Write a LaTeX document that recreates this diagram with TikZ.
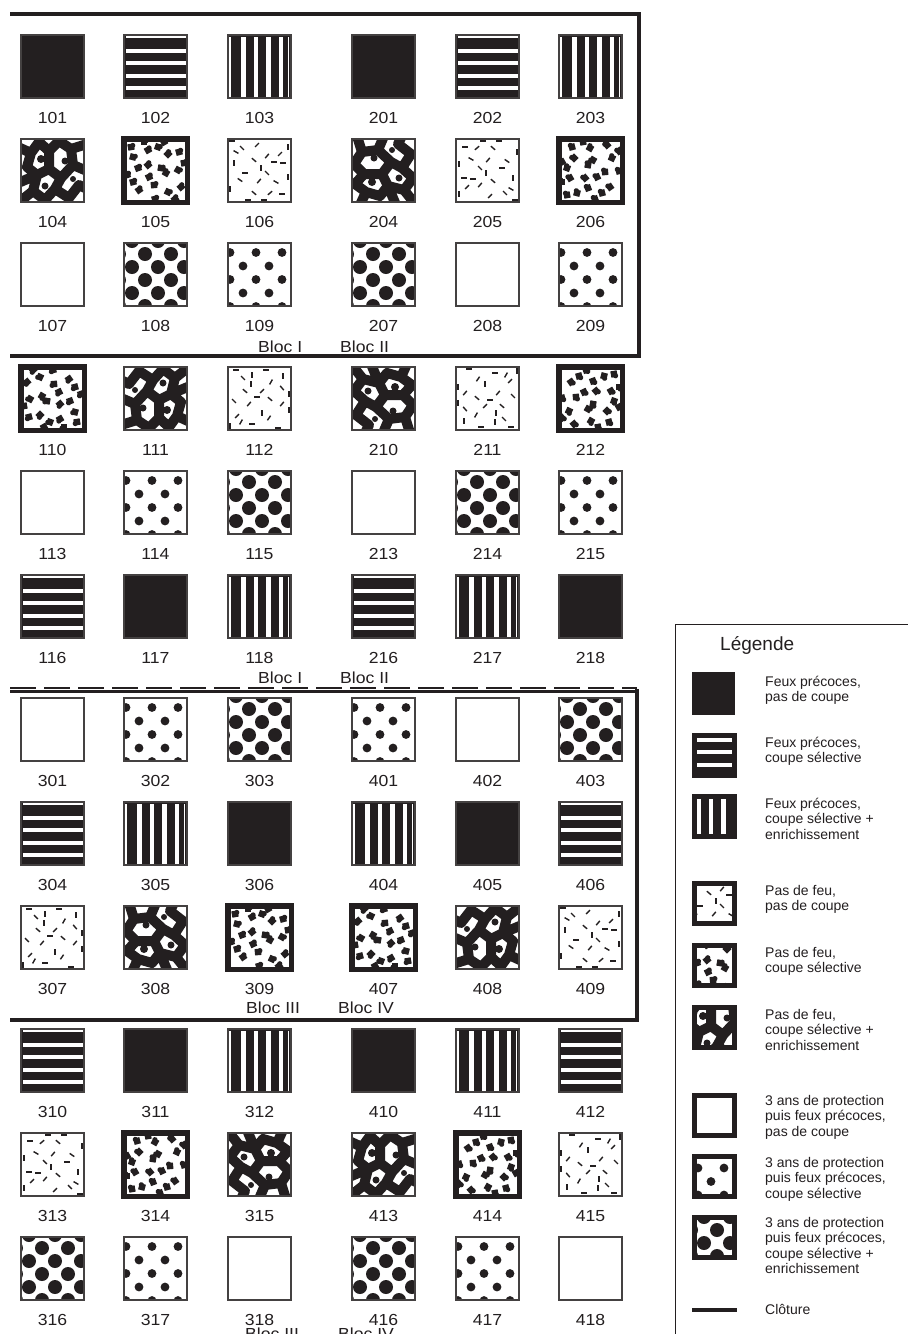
\documentclass[tikz,border=0pt]{standalone}
\usepackage{fontspec}
\setmainfont{Liberation Sans}
\newfontfamily\labfont{Liberation Sans}[FakeStretch=1.1]
\definecolor{ink}{RGB}{35,31,32}

\tikzset{
  cellbox/.style={draw=ink!85, line width=1.1pt, minimum size=63pt, inner sep=0pt, outer sep=0pt},
  thickbox/.style={draw=ink, line width=5.5pt, minimum size=63.5pt, inner sep=0pt, outer sep=0pt},
  legbox/.style={draw=ink, line width=5pt, minimum size=40pt, inner sep=0pt, outer sep=0pt},
  numlab/.style={font=\labfont\fontsize{16}{18}\selectfont, text=ink, anchor=base, inner sep=0pt},
  bloclab/.style={font=\labfont\fontsize{16}{18}\selectfont, text=ink, anchor=base west, inner sep=0pt},
  fence/.style={draw=ink, line width=4.5pt},
  legtext/.style={font=\fontsize{14}{15.5}\selectfont, text=ink, align=left, anchor=base west, inner sep=0pt},
  legtitle/.style={font=\fontsize{19}{22}\selectfont, text=ink, anchor=base west, inner sep=0pt},
  dashmark/.style={draw=ink, line width=1.4pt},
  worm/.style={draw=ink, line width=10pt, line join=round, line cap=round},
}

% ---------- patterns, drawn in a 63 x 63 box (y downwards) ----------
\newcommand\patA{\fill[ink] (-1,-1) rectangle (64,64);}
\newcommand\patB{\fill[ink] (-1,-1) rectangle (64,64);
  \fill[white] (1.5,1.2) rectangle (61.5,2.8);
  \foreach \yy in {13.5,26,38.5,51}{\fill[white] (1.5,\yy) rectangle (61.5,\yy+4);}}
\newcommand\patC{\fill[ink] (-1,-1) rectangle (64,64);
  \fill[white] (1.2,1.5) rectangle (2.8,61.5);
  \foreach \xx in {13,25.5,38,50.5}{\fill[white] (\xx,1.5) rectangle (\xx+4.5,61.5);}
  \fill[white] (59.8,1.5) rectangle (61.3,61.5);}
\newcommand\patD{\foreach \xx/\yy/\aa in {14/9/45, 29/6/-45, 6/24/90, 26/21/40, 39/17/-50,
    46/23/0, 55/24/0, 52/15/-45, 17/34/0, 31/42/-50, 12/41/35, 39/34/45, 26/54/40,
    42/54/-40, 54/55/0, 2/50/90, 4/2/0, 60/8/90, 60/38/90, 48/43/30, 20/61/0,
    36/61/0, 8/13/30, 33/29/90}{\draw[dashmark] (\xx,\yy) ++(\aa:-2.8) -- ++(\aa:5.6);}}
\newcommand\patE{\foreach \xx/\yy/\aa in {7/8/10, 24/11/30, 34/8/-20, 44/15/45, 55/13/15,
    9/18/-15, 14/29/20, 24/26/40, 37/29/-10, 25/38/25, 42/34/60, 54/31/-30, 15/51/35,
    30/46/5, 44/53/-25, 57/48/40, 9/43/15, 20/3/0, 40/3/30, 3/36/20, 60/24/10, 31/60/15, 51/60/40}
  {\begin{scope}[shift={(\xx,\yy)},rotate=\aa]
     \fill[ink] (-3.2,-3.2) rectangle (3.2,3.2);
     \fill[ink] (2,-1.2) circle (2.6);
   \end{scope}}}
\newcommand\patF{\draw[worm]
   (-3,8) -- (10,14) -- (18,3) -- (28,12) -- (38,2) -- (50,10) -- (66,5)
   (10,14) -- (6,28) -- (16,36) -- (28,30) -- (28,12)
   (28,30) -- (40,39) -- (52,26) -- (50,10)
   (52,26) -- (66,32)
   (-3,44) -- (16,36)
   (16,36) -- (12,52) -- (24,61) -- (34,50) -- (40,39)
   (34,50) -- (48,59) -- (58,46) -- (66,50)
   (-3,64) -- (12,52);
  \fill[ink] (20,20) circle (4) (44,22) circle (3.5) (24,47) circle (3.5) (52,40) circle (3);}
\newcommand\patG{}
\newcommand\patH{\foreach \yy/\xo in {-4/15,9.5/2,23/15,36.5/2,50/15,63.5/2}
  {\foreach \k in {0,1,2}{\fill[ink] (\xo+26*\k,\yy) circle (4.4);}}}
\newcommand\patI{\foreach \yy/\xo in {-2/8,11/-5,24/8,37/-5,50/8,63/-5}
  {\foreach \k in {0,1,2,3}{\fill[ink] (\xo+26*\k,\yy) circle (7);}}}

% ---------- frames ----------
\newcommand\frameNorm[3]{\node[cellbox] (c#1) at ({#2+31.5},{#3+31.5}) {};}
\newcommand\frameThick[3]{\node[thickbox] (c#1) at ({#2+31.5},{#3+31.5}) {};}
\let\frameA\frameNorm \let\frameB\frameNorm \let\frameC\frameNorm
\let\frameD\frameNorm \let\frameE\frameThick \let\frameF\frameNorm
\let\frameG\frameNorm \let\frameH\frameNorm \let\frameI\frameNorm

% #1 id, #2 left, #3 top, #4 type, #5 rotation
\newcommand\cell[5]{%
  \begin{scope}[shift={(#2,#3)}]
    \begin{scope}
      \clip (0,0) rectangle (63,63);
      \begin{scope}[rotate around={#5:(31.5,31.5)}]
        \csname pat#4\endcsname
      \end{scope}
    \end{scope}
  \end{scope}
  \csname frame#4\endcsname{#1}{#2}{#3}
  \node[numlab] (l#1) at ({#2+31.5},{#3+88}) {#1};
}

% legend square: #1 name, #2 left, #3 top, #4 type
\newcommand\legcell[4]{%
  \begin{scope}[shift={({#2+5},{#3+5})}]
    \clip (0,0) rectangle (35,35);
    \begin{scope}[shift={(-14,-14)}]\csname pat#4\endcsname\end{scope}
  \end{scope}
  \node[legbox] (#1) at ({#2+22.5},{#3+22.5}) {};
}

\begin{document}
\begin{tikzpicture}[x=1pt, y=-1pt]
\useasboundingbox (0,0) rectangle (908,1334);
\fill[white] (0,0) rectangle (908,1334);

% ---------- plots ----------
\foreach \id/\x/\y/\t/\r in {
  101/21/35/A/0, 102/124/35/B/0, 103/228/35/C/0, 201/352/35/A/0, 202/456/35/B/0, 203/559/35/C/0,
  104/21/139/F/0, 105/124/139/E/0, 106/228/139/D/0, 204/352/139/F/90, 205/456/139/D/180, 206/559/139/E/90,
  107/21/243/G/0, 108/124/243/I/0, 109/228/243/H/0, 207/352/243/I/0, 208/456/243/G/0, 209/559/243/H/0,
  110/21/367/E/180, 111/124/367/F/180, 112/228/367/D/90, 210/352/367/F/270, 211/456/367/D/270, 212/559/367/E/270,
  113/21/471/G/0, 114/124/471/H/0, 115/228/471/I/0, 213/352/471/G/0, 214/456/471/I/0, 215/559/471/H/0,
  116/21/575/B/0, 117/124/575/A/0, 118/228/575/C/0, 216/352/575/B/0, 217/456/575/C/0, 218/559/575/A/0,
  301/21/698/G/0, 302/124/698/H/0, 303/228/698/I/0, 401/352/698/H/0, 402/456/698/G/0, 403/559/698/I/0,
  304/21/802/B/0, 305/124/802/C/0, 306/228/802/A/0, 404/352/802/C/0, 405/456/802/A/0, 406/559/802/B/0,
  307/21/906/D/90, 308/124/906/F/90, 309/228/906/E/0, 407/352/906/E/180, 408/456/906/F/180, 409/559/906/D/0,
  310/21/1029/B/0, 311/124/1029/A/0, 312/228/1029/C/0, 410/352/1029/A/0, 411/456/1029/C/0, 412/559/1029/B/0,
  313/21/1133/D/180, 314/124/1133/E/90, 315/228/1133/F/270, 413/352/1133/F/0, 414/456/1133/E/270, 415/559/1133/D/270,
  316/21/1237/I/0, 317/124/1237/H/0, 318/228/1237/G/0, 416/352/1237/I/0, 417/456/1237/H/0, 418/559/1237/G/0}
  {\cell{\id}{\x}{\y}{\t}{\r}}

% ---------- block labels ----------
\node[bloclab] (b1a) at (258,352) {Bloc I};
\node[bloclab] (b2a) at (340,352) {Bloc II};
\node[bloclab] (b1b) at (258,683) {Bloc I};
\node[bloclab] (b2b) at (340,683) {Bloc II};
\node[bloclab] (b3a) at (246,1013) {Bloc III};
\node[bloclab] (b4a) at (338,1013) {Bloc IV};
\node[bloclab] (b3b) at (245,1339) {Bloc III};
\node[bloclab] (b4b) at (338,1339) {Bloc IV};

% ---------- fences ----------
\draw[fence, line join=miter] (10,14) -- (639,14) -- (639,356) -- (10,356);
\draw[ink, line width=3pt] (10,691) -- (637,691);
\draw[ink, line width=2.5pt, dash pattern=on 26pt off 8pt] (10,688) -- (637,688);
\draw[fence, line join=miter] (637,689) -- (637,1020) -- (10,1020);

% ---------- legend ----------
\draw[ink, line width=1.5pt] (915,624.5) -- (675.5,624.5) -- (675.5,1340);
\node[legtitle] (legtitle) at (720,650) {Légende};
\node[fill=ink, minimum size=43pt, inner sep=0pt] (legA) at (713.5,693.5) {};
\legcell{legB}{692}{733}{B}
\legcell{legC}{692}{794}{C}
\legcell{legD}{692}{881}{D}
\legcell{legE}{692}{943}{E}
\legcell{legF}{692}{1005}{F}
\legcell{legG}{692}{1093}{G}
\legcell{legH}{692}{1154}{H}
\legcell{legI}{692}{1215}{I}
\coordinate (fenceL) at (692,1310);
\coordinate (fenceR) at (737,1310);
\draw[fence] (fenceL) -- (fenceR);

% base anchor of a multi-line node = baseline of its last line
\node[legtext] (tA) at (765,701.5) {Feux précoces,\\pas de coupe};
\node[legtext] (tB) at (765,762.5) {Feux précoces,\\coupe sélective};
\node[legtext] (tC) at (765,839) {Feux précoces,\\coupe sélective +\\enrichissement};
\node[legtext] (tD) at (765,910.5) {Pas de feu,\\pas de coupe};
\node[legtext] (tE) at (765,972.5) {Pas de feu,\\coupe sélective};
\node[legtext] (tF) at (765,1050) {Pas de feu,\\coupe sélective +\\enrichissement};
\node[legtext] (tG) at (765,1136) {3 ans de protection\\puis feux précoces,\\pas de coupe};
\node[legtext] (tH) at (765,1198) {3 ans de protection\\puis feux précoces,\\coupe sélective};
\node[legtext] (tI) at (765,1273.5) {3 ans de protection\\puis feux précoces,\\coupe sélective +\\enrichissement};
\node[legtext] (tJ) at (765,1314) {Clôture};
\end{tikzpicture}
\end{document}
